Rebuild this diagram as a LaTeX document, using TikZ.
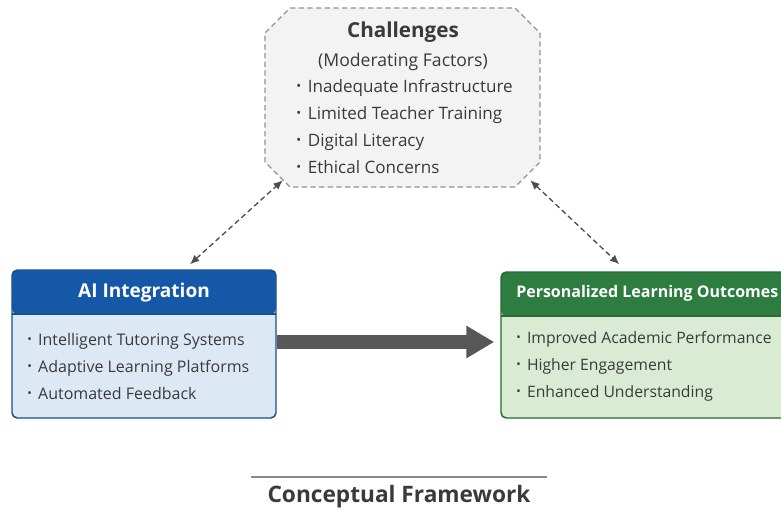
\documentclass[tikz,border=0pt]{standalone}
\usepackage{fontspec}
\setmainfont{Open Sans}
\usetikzlibrary{positioning,calc,fit,arrows.meta}
\usepackage{xcolor}

\definecolor{aihead}{HTML}{1558A8}
\definecolor{aibody}{HTML}{DDE8F5}
\definecolor{aiedge}{HTML}{1A4F8F}
\definecolor{plohead}{HTML}{2D7C40}
\definecolor{plobody}{HTML}{D9ECD3}
\definecolor{ploedge}{HTML}{256A37}
\definecolor{chalfill}{HTML}{F3F3F3}
\definecolor{ink}{HTML}{3A3A3A}

\newcommand{\bul}{\raisebox{0.12em}{\scalebox{0.75}{\textbullet}}\hspace{0.4em}}

\begin{document}
\begin{tikzpicture}[x=0.75pt,y=-0.75pt,
		box/.style={draw=#1edge, fill=#1body, rounded corners=4pt, line width=1.1pt, inner sep=0pt,
			path picture={\fill[#1head] (path picture bounding box.north west) rectangle ([yshift=-33pt]path picture bounding box.north east);
				\draw[#1edge, line width=0.8pt] ([yshift=-33pt]path picture bounding box.north west) -- ([yshift=-33pt]path picture bounding box.north east);}},
		boxtitle/.style={text=white, font=\bfseries\fontsize{12}{14}\selectfont, inner sep=0pt},
		items/.style={align=left, text=ink, font=\fontsize{12}{20.25}\selectfont, inner sep=0pt},
		dasharr/.style={dash pattern=on 4pt off 2.5pt, draw=ink!90, line width=1pt, {Latex[length=7pt,width=6pt]}-{Latex[length=7pt,width=6pt]}}]
	\clip (0,0) rectangle (781,511);
	\fill[white] (0,0) rectangle (781,511);

	% moderating factors
	\draw[dash pattern=on 4pt off 2.5pt, draw=ink!55, fill=chalfill, line width=0.9pt]
		(290,8) -- (515,8) -- (540,33) -- (540,162) -- (515,187) -- (290,187) -- (265,162) -- (265,33) -- cycle;
	\node[fit={(265,8) (540,187)}, inner sep=0pt] (chal) {};
	\node[text=ink, font=\bfseries\fontsize{15.5}{17}\selectfont] (chaltitle) at (403,32) {Challenges};
	\node[text=ink, font=\fontsize{13.2}{15}\selectfont, below=1pt of chaltitle] (chalsub) {(Moderating Factors)};
	\node[items, anchor=west, font=\fontsize{12.8}{20.25}\selectfont] (chalitems) at (296,127) {\bul Inadequate Infrastructure\\ \bul Limited Teacher Training\\ \bul Digital Literacy\\ \bul Ethical Concerns};

	% AI integration
	\node[box=ai, fit={(12,270) (276,418)}] (ai) {};
	\node[boxtitle, font=\bfseries\fontsize{14.3}{16}\selectfont] (aititle) at ($(ai.north)+(0,23)$) {AI Integration};
	\node[items, anchor=west] (aiitems) at (27,366) {\bul Intelligent Tutoring Systems\\ \bul Adaptive Learning Platforms\\ \bul Automated Feedback};

	% outcomes
	\node[box=plo, fit={(501,272) (795,418)}] (plo) {};
	\node[boxtitle, anchor=west] (plotitle) at (516,293) {Personalized Learning Outcomes};
	\node[items, anchor=west, font=\fontsize{11.8}{20.25}\selectfont] (ploitems) at (516,366) {\bul Improved Academic Performance\\ \bul Higher Engagement\\ \bul Enhanced Understanding};

	% connectors
	\draw[draw=ink!85, line width=10pt, -{Triangle[length=21pt,width=23pt]}] (ai.east |- 0,342) -- ($(plo.west |- 0,342)+(-6,0)$);
	\draw[dasharr] ($(ai.north)+(46,-5)$) -- ($(chal.south west)+(18,-7)$);
	\draw[dasharr] ($(chal.south east)+(-10,-7)$) -- ($(plo.north west)+(119,-7)$);

	% caption
	\node[text=ink, font=\bfseries\fontsize{17}{19}\selectfont] (caption) at (399,497) {Conceptual Framework};
	\draw[draw=ink!60, line width=0.9pt] (251,477) -- (547,477);
\end{tikzpicture}
\end{document}
